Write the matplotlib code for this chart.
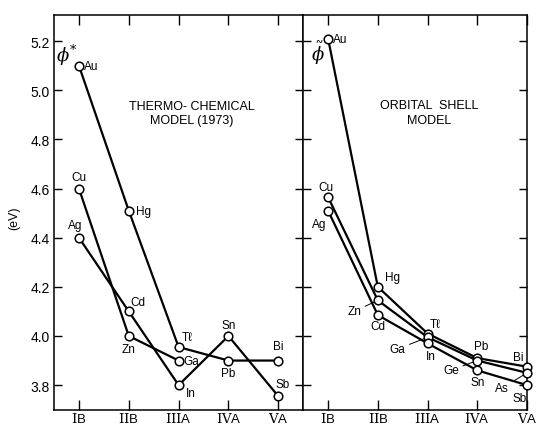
import matplotlib
matplotlib.use("Agg")
import matplotlib.pyplot as plt
import numpy as np

plt.rcParams["font.family"] = ["Liberation Sans", "DejaVu Sans"]
plt.rcParams["mathtext.fontset"] = "dejavuserif"

groups = [r"$\mathrm{I}$B", r"$\mathrm{II}$B", r"$\mathrm{III}$A", r"$\mathrm{IV}$A", r"$\mathrm{V}$A"]
yticks = [3.8, 4.0, 4.2, 4.4, 4.6, 4.8, 5.0, 5.2]

# thermo-chemical model (1973)
tc_a_names = ["Au", "Hg", "Tℓ", "Pb", "Bi"]
tc_a_vals = [5.10, 4.51, 3.955, 3.90, 3.90]
tc_b_names = ["Cu", "Zn", "Ga"]
tc_b_vals = [4.60, 4.00, 3.90]
tc_c_names = ["Ag", "Cd", "In", "Sn", "Sb"]
tc_c_vals = [4.40, 4.10, 3.80, 4.00, 3.755]

# orbital shell model
os_a_names = ["Au", "Hg", "Tℓ", "Pb", "Bi"]
os_a_vals = [5.21, 4.20, 4.01, 3.91, 3.875]
os_b_names = ["Cu", "Zn", "Ga", "Ge", "As"]
os_b_vals = [4.565, 4.145, 3.995, 3.90, 3.85]
os_c_names = ["Ag", "Cd", "In", "Sn", "Sb"]
os_c_vals = [4.51, 4.085, 3.97, 3.86, 3.80]

# label offsets in points: (dx, dy, ha, leader)
tc_offsets = {
    "Au": (3.5, 0, "left", False), "Cu": (0, 8.6, "center", False),
    "Ag": (-3, 9.4, "center", False), "Hg": (5, 0, "left", False),
    "Cd": (6.5, 6.5, "center", False), "Zn": (0, -9.4, "center", False),
    "Tℓ": (6.5, 7, "center", False), "Ga": (3.5, 0, "left", False),
    "In": (8.6, -6, "center", False), "Sn": (0, 8, "center", False),
    "Pb": (0, -8.6, "center", False), "Bi": (0, 10.8, "center", False),
    "Sb": (3, 8.6, "center", False),
}
os_offsets = {
    "Au": (3.5, 0, "left", False), "Cu": (-1.4, 7.6, "center", False),
    "Ag": (-6.5, -9.4, "center", False), "Hg": (10.8, 7.2, "center", False),
    "Zn": (-17, -8, "center", True), "Cd": (0, -7.8, "center", False),
    "Tℓ": (5.8, 6.5, "center", False), "Ga": (-21.6, -8.6, "center", True),
    "In": (2, -9.4, "center", False), "Pb": (3, 8.6, "center", False),
    "Ge": (-19, -7, "center", True), "Sn": (0, -8.2, "center", False),
    "Bi": (-6.5, 7.2, "center", False), "As": (-18, -11, "center", True),
    "Sb": (-5, -9.4, "center", False),
}

fig = plt.figure(figsize=(5.4, 4.27), dpi=100)
axl = fig.add_axes([0.100, 0.037, 0.4615, 0.9255])
axr = fig.add_axes([0.5615, 0.037, 0.4145, 0.9255])


def draw(ax, series, offsets):
    for names, vals in series:
        x = np.arange(len(vals))
        ax.plot(x, vals, "-", color="black", lw=1.6, zorder=2, clip_on=False)
        ax.plot(x, vals, "o", ms=6.2, mfc="white", mec="black", mew=1.1, zorder=3, clip_on=False)
        for xi, v, n in zip(x, vals, names):
            dx, dy, ha, lead = offsets[n]
            ap = dict(arrowstyle="-", lw=0.7, color="black", shrinkA=1, shrinkB=3) if lead else None
            ax.annotate(n, (xi, v), xytext=(dx, dy), textcoords="offset points",
                        ha=ha, va="center", fontsize=8.5, arrowprops=ap, zorder=4)


draw(axl, [(tc_a_names, tc_a_vals), (tc_b_names, tc_b_vals), (tc_c_names, tc_c_vals)], tc_offsets)
draw(axr, [(os_a_names, os_a_vals), (os_b_names, os_b_vals), (os_c_names, os_c_vals)], os_offsets)

for ax in (axl, axr):
    ax.set_ylim(3.698, 5.306)
    ax.set_yticks(yticks)
    ax.set_xticks(range(len(groups)))
    ax.set_xticklabels(groups, fontsize=9.5)
    ax.tick_params(axis="both", direction="in", width=1.0, top=True, right=True)
    ax.tick_params(axis="x", length=7, pad=0.5)
    ax.tick_params(axis="y", length=5.5)
    for s in ax.spines.values():
        s.set_linewidth(1.1)
axl.set_xlim(-0.5, 4.5)
axr.set_xlim(-0.5, 4.0)
axl.set_yticklabels([f"{t:.1f}" for t in yticks], fontsize=10)
axr.set_yticklabels([])
axl.tick_params(axis="y", pad=3)

axl.text(0.552, 0.752, "THERMO- CHEMICAL\nMODEL (1973)", transform=axl.transAxes,
         ha="center", va="center", fontsize=9, linespacing=1.3)
axr.text(0.564, 0.754, "ORBITAL  SHELL\nMODEL", transform=axr.transAxes,
         ha="center", va="center", fontsize=9, linespacing=1.3)
axl.text(0.052, 0.90, r"$\phi^{*}$", transform=axl.transAxes, ha="center", va="center", fontsize=13)
axr.text(0.067, 0.906, r"$\tilde{\phi}$", transform=axr.transAxes, ha="center", va="center", fontsize=13)
fig.text(0.026, 0.49, "(eV)", rotation=90, ha="center", va="center", fontsize=9)

fig.savefig("out.png", dpi=100)
